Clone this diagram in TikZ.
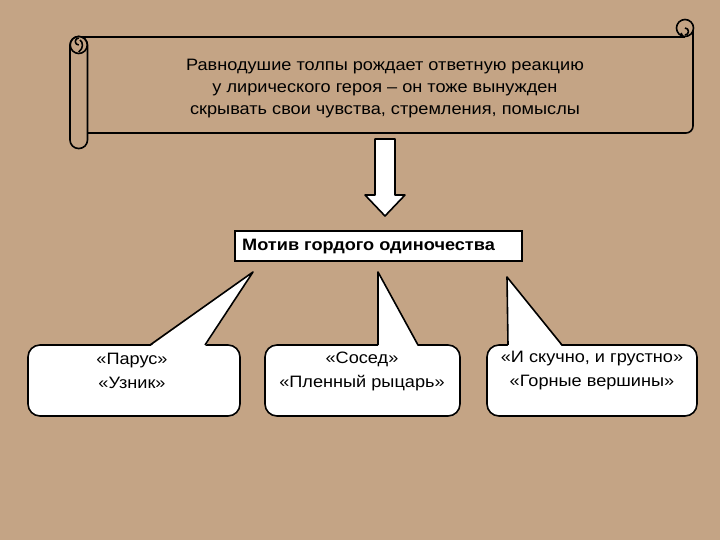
\documentclass[tikz,border=0pt]{standalone}
\usepackage{fontspec}
\setmainfont[FakeStretch=1.1]{Liberation Sans}
\definecolor{bg}{RGB}{196,164,133}
\begin{document}
\begin{tikzpicture}[x=1pt,y=-1pt,
  outl/.style={draw=black,line width=1.6pt,line join=round},
  txt/.style={font=\fontsize{16.5}{22}\selectfont,align=center,inner sep=0pt},
  btxt/.style={font=\fontsize{16.5}{24}\selectfont,align=center,inner sep=0pt},
  callbox/.style={outl,fill=white,rounded corners=12pt}]
\useasboundingbox[fill=bg] (0,0) rectangle (720,540);
% scroll
\draw[outl] (78,37) -- (685,37);
\draw[outl] (693,28) -- (693,126) arc[start angle=0,end angle=90,radius=7] -- (87,133);
\draw[outl,fill=bg] (685,28) circle[radius=8.5];
\draw[outl] (685,28) arc[start angle=-90,end angle=90,radius=3.5] ;
\draw[outl] (681,33) -- (683,37);
\draw[outl,fill=bg,rounded corners=8.5pt] (70,36.5) rectangle (87.5,148.5);
\draw[outl,fill=bg] (78.75,45) circle[radius=8.5];
\draw[outl] (78.75,45) arc[start angle=90,end angle=270,radius=3.5];
\draw[outl] (78.75,52) .. controls (84,48) and (83,42) .. (80,40);
\node[txt] (scroll) at (385,88.5) {Равнодушие толпы рождает ответную реакцию\\у лирического героя – он тоже вынужден\\скрывать свои чувства, стремления, помыслы};
% block arrow
\draw[outl,fill=white] (375,139) -- (395,139) -- (395,195) -- (405,195) -- (385,216) -- (365,195) -- (375,195) -- cycle;
% motif
\node[draw=black,line width=1.2pt,fill=white,minimum width=287pt,minimum height=30pt,inner sep=0pt] (motif) at (378.5,246) {};
\node[txt,anchor=west,font=\fontsize{16.5}{22}\selectfont\bfseries] (motiftxt) at (242,246.5) {Мотив гордого одиночества};
% callouts
\draw[callbox] (28,345) rectangle (240,416);
\fill[white] (150,346.5) -- (253,272) -- (205,346.5) -- cycle;
\draw[outl] (150,345) -- (253,272) -- (205,345);
\node[btxt] (b1) at (132,371) {«Парус»\\«Узник»};
\draw[callbox] (265,345) rectangle (460,416);
\fill[white] (378,346.5) -- (378,272) -- (418,346.5) -- cycle;
\draw[outl] (378,345) -- (378,272) -- (418,345);
\node[btxt] (b2) at (362,371) {«Сосед»\\«Пленный рыцарь»};
\draw[callbox] (487,345) rectangle (697,416);
\fill[white] (508,346.5) -- (507,277) -- (562,346.5) -- cycle;
\draw[outl] (508,345) -- (507,277) -- (562,345);
\node[btxt] (b3) at (592,371) {«И скучно, и грустно»\\«Горные вершины»};
\end{tikzpicture}
\end{document}
